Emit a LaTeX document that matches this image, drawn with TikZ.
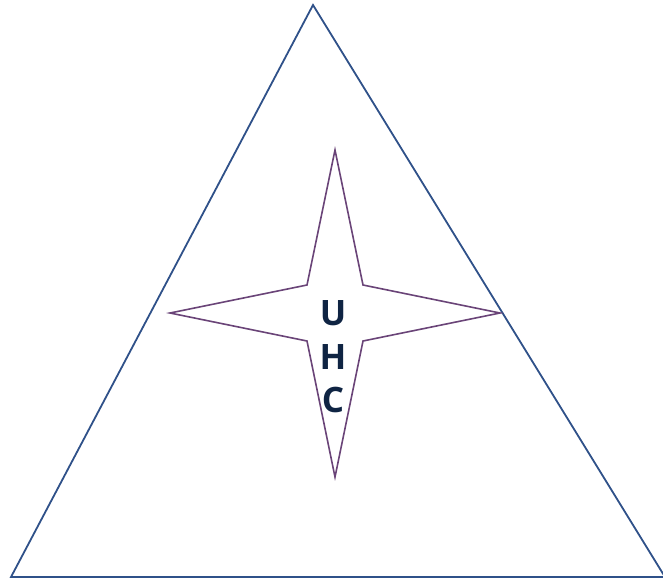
\documentclass[tikz,border=0pt]{standalone}
\usepackage{fontspec}
\setmainfont{Open Sans}
\begin{document}
\begin{tikzpicture}[x=1pt,y=-1pt,
  tri/.style={draw=triblue,line width=1.8pt,line join=miter},
  starline/.style={draw=starpurple,line width=1.6pt,line join=miter},
  letter/.style={font=\fontsize{35}{44}\selectfont\bfseries,text=navy,inner sep=0pt,anchor=center}]
\definecolor{triblue}{HTML}{2F5189}
\definecolor{starpurple}{HTML}{6A4478}
\definecolor{navy}{HTML}{0F2443}
\useasboundingbox (0,0) rectangle (663,579);
\clip (0,0) rectangle (663,579);
\coordinate (A) at (313,5);
\coordinate (B) at (11,577);
\coordinate (C) at (665,577);
\draw[tri] (A) -- (B) -- (C) -- cycle;
\coordinate (st) at (335,150);
\coordinate (sb) at (335,477);
\coordinate (sl) at (170,313);
\coordinate (sr) at (500,313);
\coordinate (i1) at (307,285);
\coordinate (i2) at (363,285);
\coordinate (i3) at (363,341);
\coordinate (i4) at (307,341);
\draw[starline] (st) -- (i2) -- (sr) -- (i3) -- (sb) -- (i4) -- (sl) -- (i1) -- cycle;
\node[letter] (u) at (333,313) {U};
\node[letter] (h) at (333,357) {H};
\node[letter] (c) at (333,400) {C};
\end{tikzpicture}
\end{document}
